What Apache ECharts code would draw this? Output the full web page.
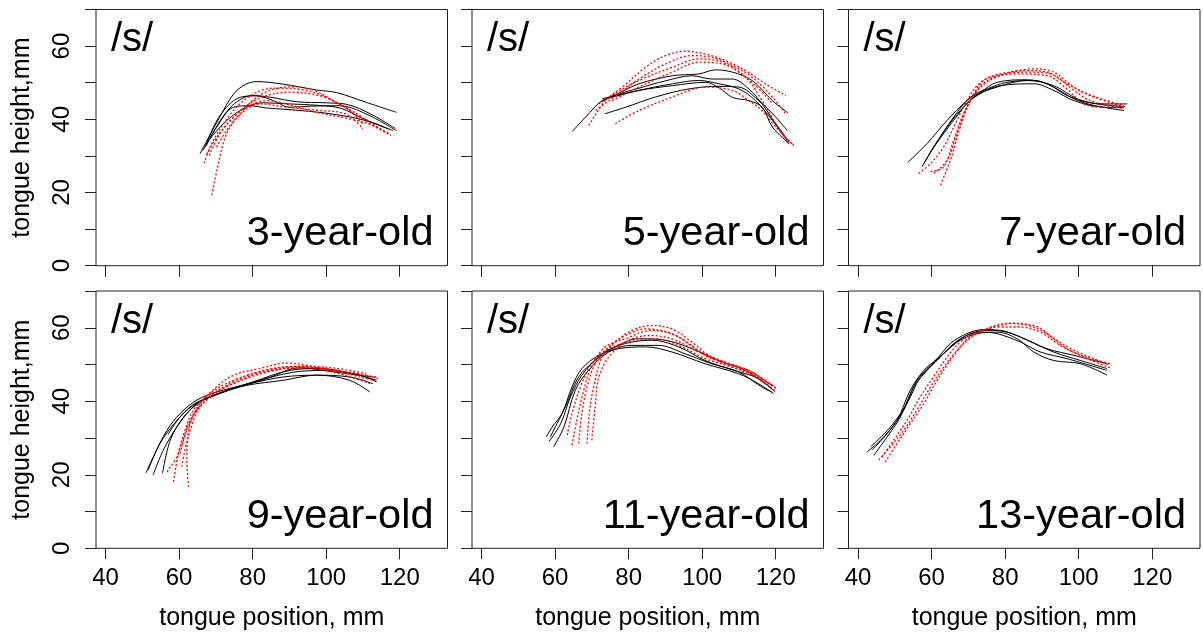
<!DOCTYPE html>
<html>
<head>
<meta charset="utf-8">
<script src="https://cdn.jsdelivr.net/npm/echarts@6/dist/echarts.min.js"></script>
<style>
  html, body { margin: 0; padding: 0; background: #fff; }
  #main { width: 1203px; height: 639px; }
</style>
</head>
<body>
<div id="main"></div>
<script>
// axis ticks / labels
var xTicks = [40, 60, 80, 100, 120];
var yTicks = [0, 10, 20, 30, 40, 50, 60, 70];
var yLabels = [0, 20, 40, 60];
var ages = ['3-year-old', '5-year-old', '7-year-old', '9-year-old', '11-year-old', '13-year-old'];

// tongue contours, [position, height] in mm. solid = black, dotted = red
var solid3 = [
  [[65.7,30.6],[68,35],[71,40.5],[74.8,46.9],[78,49.5],[81.1,50.3],[88.3,49.6],[97.4,48.0],[102.8,47.3],[111,44.6],[119.1,41.9]],
  [[67.1,32.4],[71.1,41],[76.6,46],[81.1,46.4],[85.6,45.1],[90.1,43.3],[96,43.6],[103.7,43.7],[111,41.4],[119.1,36.9]],
  [[67.4,32.8],[70.2,37.8],[74.8,43.3],[79.3,43.7],[83.8,43.1],[92.9,42.4],[101.9,41.4],[111,39.6],[118.2,36.9]],
  [[66.5,31.5],[69,36],[72.5,41.5],[76,45],[80,46.5],[85,46],[92,44.8],[100,44.5],[106,44],[112,41.5],[118.8,37.5]],
  [[68,34.2],[72.9,39.6],[78.4,43.4],[83,44.5],[90,44.2],[98,43.8],[104,43],[110,40.2],[117,37.3]]
];
var dotted3 = [
  [[68.9,19.3],[70.5,27],[72.9,36],[76.6,41.4],[81.1,46],[85.6,48.2],[91,48.9],[96.5,48],[101.9,45.1],[106.4,42.4],[110,38.7]],
  [[66.8,28],[69.3,34.2],[74.8,42.4],[80.2,46.9],[85.6,48.5],[92.9,48.2],[100.1,46],[106.4,42.4],[113.6,37.8],[117.7,35.6]],
  [[68.2,30.1],[71.1,36],[74.8,40.5],[78.4,43.3],[83.8,45.1],[89.2,44.2],[97.4,41.9],[106.4,40.1],[112.8,38.3],[117.3,36]],
  [[70.2,32.4],[72.9,36.9],[76.6,41.4],[82,44.2],[89.2,43.3],[98.4,42.4],[105.5,41.4],[110,37.4]],
  [[67.5,30.5],[70.5,35.5],[73.8,39.5],[78,43.5],[83,46.2],[90,47.4],[98,46.5],[104,44],[110,40.5],[116,36.5]]
];

var solid5 = [
  [[64.7,36.7],[68.3,40.6],[72.8,45.1],[77.4,46.5],[82.8,47.9],[91.9,49.7],[99.1,50.6],[104.6,49.7],[110,48.3],[114.5,45.1],[119.1,39.7],[123.6,33.4]],
  [[72.8,45.1],[77,47],[82.8,49.7],[91.9,51.9],[99.1,52.4],[103.6,53.5],[108.2,52.9],[113.6,50.6],[119.1,45.1],[123.4,41.7]],
  [[73.5,41.5],[79.2,43.3],[87.3,46.1],[96.4,48.3],[104.6,49],[110,48.8],[115.4,45.1],[120,40.6],[123.1,37]],
  [[72.8,45.6],[82.8,47.9],[91.9,49.2],[100.9,50.1],[104.6,48.6],[108.2,46],[112.7,45.1],[116.3,43.3],[119.1,37.9],[123.6,33.4]],
  [[72.5,44.8],[77,46.8],[82.8,48.5],[90,50.5],[97.3,51.9],[102.7,51],[108.2,51],[112.7,48.3],[116.3,44.2],[119.5,39.5],[122.5,35.5]]
];
var dotted5 = [
  [[69.2,38.3],[73.7,45.1],[78.3,48.8],[84.6,54.2],[90,57.4],[95.5,58.6],[100.9,57.8],[106.4,56],[111.8,53.3],[117.2,49.7],[122.7,46.5]],
  [[71,42.4],[77.4,47],[82.8,51],[90,55.1],[97.3,57.4],[102.7,56.9],[108.2,54.7],[113.6,51.5],[119.1,46.1],[122.7,41.5]],
  [[71.9,44.2],[77,47.5],[82.8,50.6],[91.9,54.2],[99.1,56.5],[105.5,55.6],[111.8,51.5],[116.3,45.1],[121.8,36.1],[125.4,32.5]],
  [[76.4,38.8],[82.8,42.4],[91.9,46.1],[100.9,48.8],[108.2,47.9],[112.7,45.1],[116.3,42.4],[120,37.9],[124.9,32.9]],
  [[75.5,45.1],[82.8,48.8],[91.9,52.9],[99.1,55.6],[105.5,55.1],[110,52.9],[114.5,49.2],[119,44.5]]
];

var solid7 = [
  [[53.5,28.2],[58.8,33.4],[64.2,39.7],[69.6,45.1],[73.3,47.4],[77.8,50.1],[86,50.8],[91.4,49.7],[96.8,46.5],[102.3,44.7],[107.7,44.2],[113.2,44.2]],
  [[57.4,27],[60.6,32.5],[66,40.6],[70.6,46.1],[75.1,48.3],[80.5,50.1],[87.8,50.6],[93.2,48.8],[98.7,45.6],[104.1,43.8],[112.3,42.4]],
  [[57.9,27.9],[62.4,35.2],[67.8,42.4],[72.4,46.5],[78.7,49.2],[87.8,49.7],[93.2,47.9],[98.7,45.1],[106.8,43.3],[112.3,43.2]],
  [[59.7,31.1],[66,39.7],[71.5,46.1],[77.8,48.8],[86,50.6],[93.2,49.2],[99.6,45.6],[105,44.2],[112.7,43.5]]
];
var dotted7 = [
  [[56.5,25.2],[59.7,27.9],[63.3,32.5],[66.9,39.7],[69.6,45.1],[73.3,50.1],[78.7,52.4],[86,53.3],[91.4,52.9],[96.8,49.7],[102.3,47],[107.7,45.1],[112.3,43.8]],
  [[62.4,22],[65.1,28.8],[67.8,37.9],[70.6,45.1],[74.2,50.6],[80.5,52.6],[87.8,53.8],[93.2,52.9],[98.7,48.8],[104.1,46.1],[112.3,43.4]],
  [[60.6,25.2],[64.2,28.8],[66.9,36.1],[69.6,43.3],[73.3,48.8],[78.7,51.9],[86,52.9],[92.3,52.4],[98.7,47.9],[103.2,45.1],[112.3,42.9]],
  [[59.7,25.7],[63.3,27],[66,34.3],[68.7,41.5],[72.3,47.9],[76.9,51.5],[84.1,52.4],[91.4,51.9],[96.8,48.3],[101.4,44.2],[106.8,43.3],[112.3,43.5]]
];

var solid9 = [
  [[51,20.5],[53,24.9],[56.7,32.1],[60.3,36.7],[64.8,40.3],[70.2,42.5],[79.3,44.8],[88.3,46.6],[97.4,47.1],[106.4,45.7],[111.9,42.5]],
  [[52.9,19.9],[55.7,26.7],[59.4,33],[63.9,38.5],[69.3,41.6],[78.3,44.3],[88.3,45.7],[97.4,47.1],[106.4,46.6],[112.7,44.8]],
  [[55.5,20.4],[57.6,29.4],[61.2,35.7],[65.7,39.8],[73,43],[82,45.7],[91,47.9],[100.1,48.4],[109.1,47.1],[113.7,45.3]],
  [[51.6,21.3],[54.8,28.5],[59.4,34.8],[63.9,38.9],[71.1,42.1],[80.2,45.3],[90.1,48.4],[98.2,48.9],[107.2,47.5],[113.7,45.7]],
  [[57,31],[60.5,36],[65,39.8],[74.8,43.4],[83.8,46.2],[92.9,49.1],[101.9,48],[112.7,46.6]]
];
var dotted9 = [
  [[62.6,16.7],[62.1,24],[63,33.9],[65.7,39.4],[70.2,43.9],[74.8,47.1],[82,48.9],[89.2,50.4],[94.7,49.8],[101.9,48.4],[109.1,47.5],[114.1,46.2]],
  [[58.5,18.1],[59.8,25.8],[61.6,32.1],[63.9,37.6],[67.5,41.2],[74.8,44.8],[83.8,47.9],[92.9,49.3],[101.9,48.4],[109.1,46.6],[112.8,45.7]],
  [[56.7,20.8],[59.4,24.9],[62.1,32.1],[64.8,37.6],[68.4,42.1],[74.8,45.7],[83.8,48.4],[92.9,49.5],[101.9,48],[111.9,44.8]],
  [[60.7,22.2],[62.5,30.3],[65.7,38.5],[71.1,43],[80.2,47.1],[89.2,48.9],[98.2,49.1],[107.2,47.5],[113.6,46.6]],
  [[60.3,25.8],[63,34.8],[67.5,40.3],[75,45.5],[83.8,48.6],[92,49.5],[101.9,49.1],[110.9,47.5]]
];

var solid11 = [
  [[57.6,30.3],[59.2,33],[61.9,36.7],[64.6,43.9],[67.3,48.9],[71.9,52.5],[77.3,54.3],[84.5,54.8],[91.8,53.4],[100.8,50.2],[109.9,47.5],[115.3,44.8],[119.4,42.1]],
  [[58.3,29],[61.5,33.9],[64.2,41.2],[67.3,47.1],[72.8,52.9],[79.1,55.7],[86.3,56.6],[93.6,54.8],[100.8,51.1],[108,48.6],[115.3,46.2],[119.8,42.5]],
  [[59.6,27.6],[62.4,33],[65.5,43],[69.1,48.4],[74.6,53.4],[80.9,55.2],[88.2,55.2],[95.4,52.9],[102.6,50.2],[109.9,48],[116.2,43.9],[119,42.5]],
  [[58.7,30.3],[62.8,38.5],[66.4,46.6],[70.9,51.1],[76.4,54.8],[82.7,57],[90,56.6],[97.2,54.3],[104.4,51.1],[111.7,48.4],[118.9,43.4]]
];
var dotted11 = [
  [[68.7,28.5],[69.3,36.7],[70.5,43.9],[72.8,52],[76.4,56.1],[80.9,59.3],[86.3,60.6],[91.8,59.7],[97.2,56.1],[102.6,52],[109.9,49.3],[115.3,46.6],[120.3,43.4]],
  [[66.4,28.5],[67.3,36.7],[68.7,43.9],[70.9,50.2],[74.6,54.8],[79.1,57.9],[84.5,59.7],[91.8,58.4],[99,53.8],[106.2,50.7],[113.5,48],[120.3,43.4]],
  [[64.6,28.1],[65.9,34.8],[67.8,43],[70,49.8],[73.7,54.8],[79.1,57],[86.3,59.3],[93.6,57.5],[100.8,52.5],[107.1,49.8],[113.5,47.5],[119.8,43.9]],
  [[63.3,30.8],[64.6,36.7],[66.9,43.9],[69.6,49.8],[73.7,53.8],[80,56.1],[87.2,57],[94.5,54.8],[100.8,51.6],[108,49.3],[114.4,46.6],[119.8,43]],
  [[70,29.4],[70.9,38.5],[71.9,46.6],[74.6,52],[79.1,56.1],[85.4,57.9],[91.8,57],[99,53.4],[106,50.5],[113,48.2],[119,44.2]]
];

var solid13 = [
  [[42.4,26.2],[46.1,29.4],[50.6,34.8],[54.2,43],[57.9,48.4],[61.5,51.6],[65.1,55.7],[69.6,58.4],[74.2,59.5],[78.7,59.3],[84.2,57.5],[91.4,54.3],[98.7,52.5],[107.7,50.2]],
  [[44.3,25.3],[47.9,30.3],[51.5,35.7],[55.1,43.9],[58.8,48.4],[63.3,53],[67.8,56.6],[72.4,58.4],[77.8,58.8],[83.3,57],[87.8,53.4],[93.2,51.1],[100.5,50.2],[107.7,47.1]],
  [[43.8,26.7],[47.9,31.2],[52.4,37.6],[56,45.7],[59.7,49.8],[64.2,53.8],[68.7,57.5],[73.3,58.8],[77.8,58.4],[84.2,56.1],[89.6,53.4],[96.8,51.6],[107.7,48.4]],
  [[43.4,27.6],[48.8,33],[53.3,39.4],[57,46.6],[61.5,51.1],[66,55.7],[70.6,58.4],[75.1,59.3],[80.5,58.8],[86,56.6],[93.2,53.4],[100.5,51.1],[107.7,48.9]]
];
var dotted13 = [
  [[45.6,24],[48.8,27.6],[52.4,32.1],[56,37.6],[59.7,43.9],[63.3,49.3],[66.9,53.8],[70.5,57.5],[75.1,59.8],[80.5,61.2],[86,60.7],[91.4,58.4],[96.8,54.3],[102.3,52],[108.6,50.2]],
  [[47.4,23.5],[50.6,28.5],[54.2,33.9],[57.9,39.4],[61.5,45.7],[65.1,51.1],[68.7,55.7],[72.4,58.4],[76.9,60.2],[82.3,61.2],[88.7,60.3],[93.2,57.1],[98.7,53.9],[104.1,51.6],[108.6,49.8]],
  [[46.5,24.9],[49.7,29.4],[53.3,34.8],[56.9,41.2],[60.5,46.6],[64.2,52],[67.8,56.1],[72.4,58.8],[77.8,60.2],[84.2,60.2],[89.6,58.8],[95,55.2],[102.3,51.6],[108.6,49.1]]
];

var panels = [
  { solid: solid3, dotted: dotted3 },
  { solid: solid5, dotted: dotted5 },
  { solid: solid7, dotted: dotted7 },
  { solid: solid9, dotted: dotted9 },
  { solid: solid11, dotted: dotted11 },
  { solid: solid13, dotted: dotted13 }
];

// layout (px)
var colLeft = [96, 472, 848.5];
var gridW = 351.5;
var rowTop = [9.5, 291];
var rowH = [256.2, 257.3];
var FONT = '"Liberation Sans", Arial, sans-serif';

var myChart = echarts.init(document.getElementById('main'));

var grids = [], xAxes = [], yAxes = [], series = [], texts = [];

panels.forEach(function (p, i) {
  var row = Math.floor(i / 3), col = i % 3;
  var left = colLeft[col], top = rowTop[row], h = rowH[row];
  var bottomRow = row === 1, leftCol = col === 0;

  grids.push({
    left: left, top: top, width: gridW, height: h,
    show: true, borderColor: '#222', borderWidth: 1,
    backgroundColor: 'transparent', containLabel: false, outerBoundsMode: 'none'
  });

  xAxes.push({
    gridIndex: i, type: 'value', min: 37.4, max: 133,
    axisLine: { show: false, onZero: false },
    splitLine: { show: false },
    axisTick: { show: true, customValues: xTicks, length: 11, lineStyle: { color: '#222', width: 1 } },
    axisLabel: { show: bottomRow, customValues: xTicks, margin: 18, fontSize: 24, color: '#000', fontFamily: FONT },
    name: bottomRow ? 'tongue position, mm' : '',
    nameLocation: 'middle', nameGap: 57,
    nameTextStyle: { fontSize: 25, color: '#000', fontFamily: FONT }
  });

  yAxes.push({
    gridIndex: i, type: 'value', min: 0, max: 70,
    axisLine: { show: false, onZero: false },
    splitLine: { show: false },
    axisTick: { show: true, customValues: yTicks, length: 11, lineStyle: { color: '#222', width: 1 } },
    axisLabel: { show: leftCol, customValues: yLabels, rotate: 90, margin: 22, fontSize: 24, color: '#000', fontFamily: FONT },
    name: leftCol ? 'tongue height,mm' : '',
    nameLocation: 'middle', nameGap: 61, nameRotate: 90,
    nameTextStyle: { fontSize: 25, color: '#000', fontFamily: FONT }
  });

  p.solid.forEach(function (curve) {
    series.push({
      type: 'line', xAxisIndex: i, yAxisIndex: i, data: curve,
      showSymbol: false, symbol: 'none', smooth: 0.35, silent: true,
      lineStyle: { color: '#000', width: 1 }
    });
  });
  p.dotted.forEach(function (curve) {
    series.push({
      type: 'line', xAxisIndex: i, yAxisIndex: i, data: curve,
      showSymbol: false, symbol: 'none', smooth: 0.35, silent: true,
      lineStyle: { color: '#ff0000', width: 1.3, type: [2, 2] }
    });
  });

  texts.push({
    type: 'text', x: left + 15, y: top + 30.5,
    style: { text: '/s/', font: '40px ' + FONT, fill: '#000', textAlign: 'left', textVerticalAlign: 'middle' }
  });
  texts.push({
    type: 'text', x: left + gridW - 14, y: top + h - 32,
    style: { text: ages[i], font: '41.5px ' + FONT, fill: '#000', textAlign: 'right', textVerticalAlign: 'middle' }
  });
});

var option = {
  animation: false,
  backgroundColor: '#fff',
  grid: grids,
  xAxis: xAxes,
  yAxis: yAxes,
  series: series,
  graphic: texts
};

myChart.setOption(option);
</script>
</body>
</html>
